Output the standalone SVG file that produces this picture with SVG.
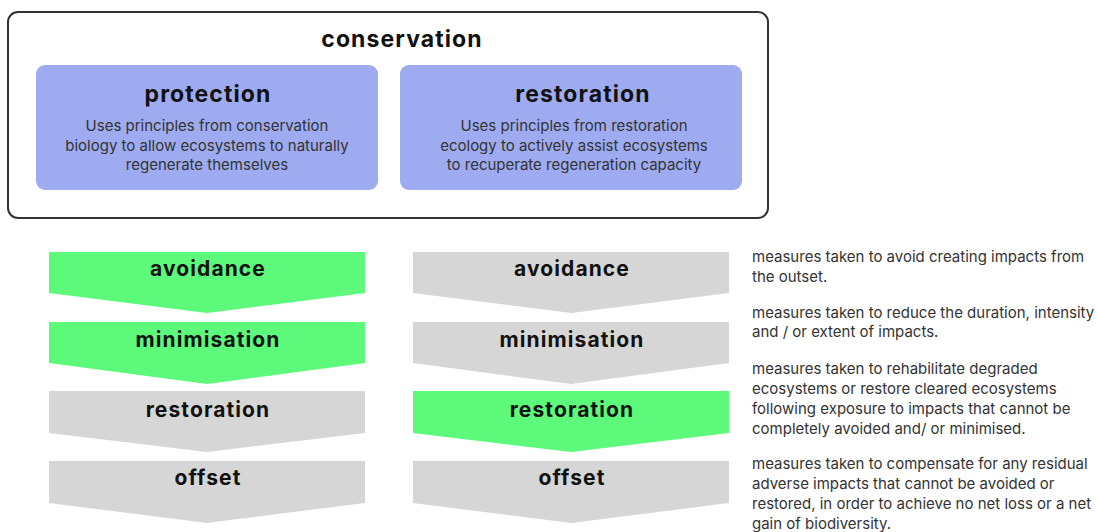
<svg xmlns="http://www.w3.org/2000/svg" width="1097" height="532" viewBox="0 0 1097 532">
<style>
.h{font-family:Inter,"Noto Sans",sans-serif;font-weight:700;fill:#111;text-anchor:middle;letter-spacing:1.1px}
.t1{font-size:23px}
.t2{font-size:21px}
.b{font-family:Inter,"Noto Sans",sans-serif;font-size:15px;fill:#333;text-anchor:middle}
.d{font-family:Inter,"Noto Sans",sans-serif;font-size:15px;fill:#333}
.card{fill:#9eabf0}
.g{fill:#5cf97b}
.y{fill:#d6d6d6}
</style>
<rect width="1097" height="532" fill="#fff"/>
<g id="conservation">
<rect x="8" y="12" width="760" height="206" rx="10" fill="#fff" stroke="#333" stroke-width="2"/>
<text class="h t1" x="402" y="47">conservation</text>
</g>
<g id="protection">
<rect class="card" x="36" y="65" width="342" height="125" rx="9"/>
<text class="h t1" x="208" y="102">protection</text>
<text class="b" x="207" y="131">Uses principles from conservation</text>
<text class="b" x="207" y="151">biology to allow ecosystems to naturally</text>
<text class="b" x="207" y="170">regenerate themselves</text>
</g>
<g id="restoration-card">
<rect class="card" x="400" y="65" width="342" height="125" rx="9"/>
<text class="h t1" x="583" y="102">restoration</text>
<text class="b" x="574" y="131">Uses principles from restoration</text>
<text class="b" x="574" y="151">ecology to actively assist ecosystems</text>
<text class="b" x="574" y="170">to recuperate regeneration capacity</text>
</g>
<g id="left-avoidance">
<path class="g" d="M49 252H365V293L207 313L49 293Z"/>
<text class="h t2" x="208" y="276">avoidance</text>
</g>
<g id="left-minimisation">
<path class="g" d="M49 322H365V363L207 384L49 363Z"/>
<text class="h t2" x="208" y="347">minimisation</text>
</g>
<g id="left-restoration">
<path class="y" d="M49 391H365V433L207 452L49 433Z"/>
<text class="h t2" x="208" y="417">restoration</text>
</g>
<g id="left-offset">
<path class="y" d="M49 461H365V503L207 523L49 503Z"/>
<text class="h t2" x="208" y="485">offset</text>
</g>
<g id="right-avoidance">
<path class="y" d="M413 252H729V293L571 313L413 293Z"/>
<text class="h t2" x="572" y="276">avoidance</text>
</g>
<g id="right-minimisation">
<path class="y" d="M413 322H729V363L571 384L413 363Z"/>
<text class="h t2" x="572" y="347">minimisation</text>
</g>
<g id="right-restoration">
<path class="g" d="M413 391H729V433L571 452L413 433Z"/>
<text class="h t2" x="572" y="417">restoration</text>
</g>
<g id="right-offset">
<path class="y" d="M413 461H729V503L571 523L413 503Z"/>
<text class="h t2" x="572" y="485">offset</text>
</g>
<g id="connectors"></g>
<g id="descriptions">
<text class="d" x="752" y="262">measures taken to avoid creating impacts from</text>
<text class="d" x="752" y="282">the outset.</text>
<text class="d" x="752" y="318">measures taken to reduce the duration, intensity</text>
<text class="d" x="752" y="337">and / or extent of impacts.</text>
<text class="d" x="752" y="374">measures taken to rehabilitate degraded</text>
<text class="d" x="752" y="394">ecosystems or restore cleared ecosystems</text>
<text class="d" x="752" y="414">following exposure to impacts that cannot be</text>
<text class="d" x="752" y="434">completely avoided and/ or minimised.</text>
<text class="d" x="752" y="469">measures taken to compensate for any residual</text>
<text class="d" x="752" y="489">adverse impacts that cannot be avoided or</text>
<text class="d" x="752" y="509">restored, in order to achieve no net loss or a net</text>
<text class="d" x="752" y="529">gain of biodiversity.</text>
</g>
</svg>
